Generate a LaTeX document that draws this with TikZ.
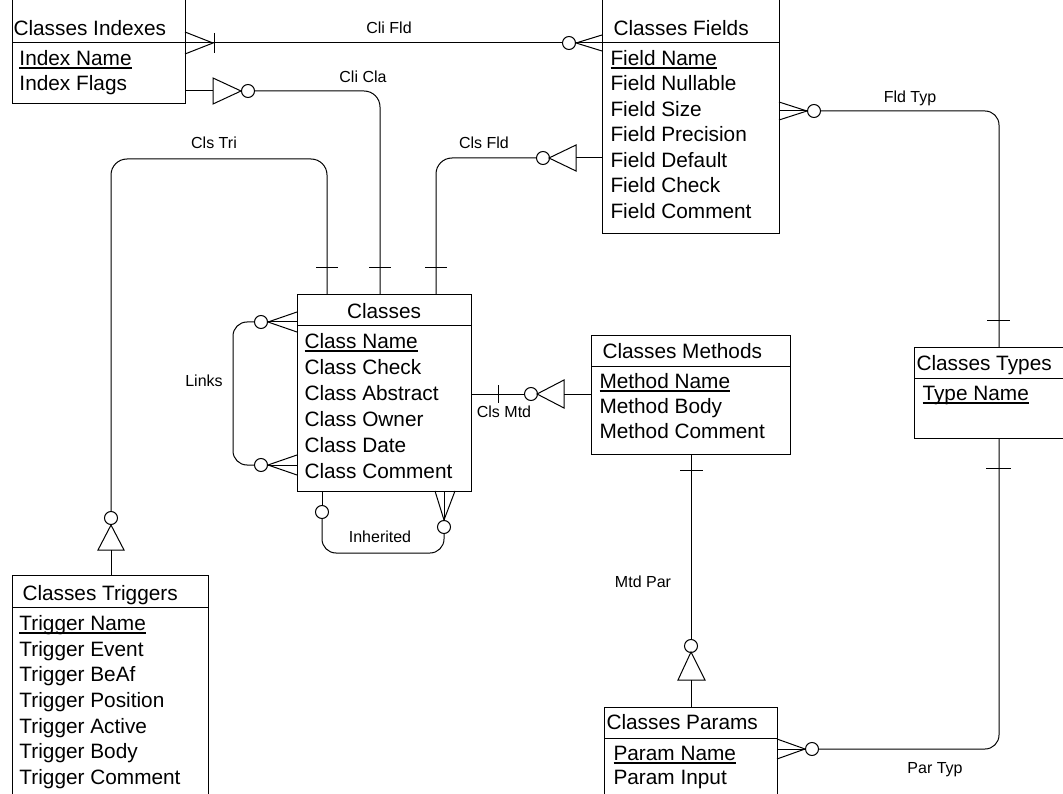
\documentclass[tikz,border=0pt]{standalone}
\usepackage{fontspec}
\setmainfont{Liberation Sans}
\usepackage{xcolor}

\newcommand{\entfont}{\fontsize{20.8}{25}\selectfont}
\newcommand{\relfont}{\fontsize{16}{19}\selectfont}
\newcommand{\keyname}[1]{\setbox0\hbox{#1}\rlap{\rule[-3.6pt]{\wd0}{1.8pt}}\box0}

\begin{document}
\begin{tikzpicture}[x=1pt,y=-1pt,line width=1pt,
  ent/.style={draw,line width=1.2pt,anchor=north west,inner sep=0pt},
  ttl/.style={anchor=west,inner sep=0pt,font=\entfont,text height=14.9pt,text depth=0pt},
  attr/.style={ttl},
  lbl/.style={inner sep=0pt,font=\relfont,text height=11.5pt,text depth=0pt},
  opt/.style={circle,draw,inner sep=0pt,minimum size=13pt}]
  \useasboundingbox (0,0) rectangle (1063,794);

  % entities
  \node[ent,minimum width=173pt,minimum height=123pt] (idx) at (12,-20) {};
  \draw (12,43) -- (185,43);
  \node[ttl] (idx-t) at (13,28) {Classes Indexes};
  \foreach \a [count=\i from 0] in {\keyname{Index Name},Index Flags}
    \node[attr] (idx-\i) at (19,58+25.5*\i) {\a};

  \node[ent,minimum width=177pt,minimum height=253pt] (fld) at (602,-20) {};
  \draw (602,43) -- (779,43);
  \node[ttl] (fld-t) at (613,28) {Classes Fields};
  \foreach \a [count=\i from 0] in {\keyname{Field Name},Field Nullable,Field Size,
      Field Precision,Field Default,Field Check,Field Comment}
    \node[attr] (fld-\i) at (610,58+25.5*\i) {\a};

  \node[ent,minimum width=174pt,minimum height=197pt] (cla) at (297,294) {};
  \draw (297,326) -- (472,326);
  \node[ttl,anchor=center] (cla-t) at (384,311) {Classes};
  \foreach \a [count=\i from 0] in {\keyname{Class Name},Class Check,Class Abstract,
      Class Owner,Class Date,Class Comment}
    \node[attr] (cla-\i) at (304,341+26*\i) {\a};

  \node[ent,minimum width=199pt,minimum height=119pt] (mtd) at (591,335) {};
  \draw (591,366) -- (790,366);
  \node[ttl] (mtd-t) at (602,351) {Classes Methods};
  \foreach \a [count=\i from 0] in {\keyname{Method Name},Method Body,Method Comment}
    \node[attr] (mtd-\i) at (599,381+25*\i) {\a};

  \node[ent,minimum width=170pt,minimum height=91pt] (typ) at (914,347) {};
  \draw (914,378) -- (1084,378);
  \node[ttl] (typ-t) at (916,363) {Classes Types};
  \node[attr] (typ-0) at (922,393) {\keyname{Type Name}};

  \node[ent,minimum width=173pt,minimum height=120pt] (prm) at (604,707) {};
  \draw (604,738) -- (778,738);
  \node[ttl] (prm-t) at (606,722) {Classes Params};
  \foreach \a [count=\i from 0] in {\keyname{Param Name},Param Input}
    \node[attr] (prm-\i) at (613,753+24*\i) {\a};

  \node[ent,minimum width=196pt,minimum height=240pt] (tri) at (12,575) {};
  \draw (12,607) -- (208,607);
  \node[ttl] (tri-t) at (22,593) {Classes Triggers};
  \foreach \a [count=\i from 0] in {\keyname{Trigger Name},Trigger Event,Trigger BeAf,
      Trigger Position,Trigger Active,Trigger Body,Trigger Comment}
    \node[attr] (tri-\i) at (19,623+25.7*\i) {\a};

  % Cli Fld
  \node[opt] (o1) at (569,43) {};
  \draw (185,32) -- (213,43) -- (185,54);
  \draw (214,33) -- (214,53);
  \draw (idx.east |- o1) -- (o1);
  \draw (fld.west |- 0,35) -- (o1.east) -- (fld.west |- 0,51);
  \draw (o1.east) -- (fld.west |- o1);
  \node[lbl] (l-clifld) at (389,28) {Cli Fld};

  % Cli Cla
  \node[opt] (o2) at (248,91) {};
  \draw (idx.east |- o2) -- (213,91);
  \draw (213,78) -- (241,91) -- (213,104) -- cycle;
  \draw[rounded corners=16pt] (o2) -- (380,91) -- (380,294);
  \draw (369,268) -- (391,268);
  \node[lbl] (l-clicla) at (363,77) {Cli Cla};

  % Cls Fld
  \node[opt] (o3) at (543,158) {};
  \draw (fld.west |- o3) -- (576,158);
  \draw (576,145) -- (549,158) -- (576,171) -- cycle;
  \draw[rounded corners=16pt] (o3) -- (436,158) -- (436,294);
  \draw (425,268) -- (447,268);
  \node[lbl] (l-clsfld) at (484,143) {Cls Fld};

  % Cls Tri
  \node[opt] (o4) at (111,518) {};
  \draw (111,575) -- (111,550);
  \draw (98,550) -- (111,525) -- (124,550) -- cycle;
  \draw[rounded corners=16pt] (o4) -- (111,159) -- (327,159) -- (327,294);
  \draw (316,268) -- (338,268);
  \node[lbl] (l-clstri) at (214,143) {Cls Tri};

  % Links
  \node[opt] (o5) at (261,322) {};
  \node[opt] (o6) at (261,465) {};
  \draw (297,312) -- (o5.east) -- (297,332);
  \draw (o5.east) -- (297,322);
  \draw (297,455) -- (o6.east) -- (297,475);
  \draw (o6.east) -- (297,465);
  \draw[rounded corners=14pt] (o5) -- (233,322) -- (233,465) -- (o6);
  \node[lbl] (l-links) at (204,381) {Links};

  % Inherited
  \node[opt] (o7) at (322,512) {};
  \node[opt] (o8) at (444,527) {};
  \draw (322,491) -- (o7);
  \draw (435,491) -- (o8.north) -- (455,491);
  \draw (444,491) -- (o8.north);
  \draw[rounded corners=14pt] (o7) -- (322,553) -- (444,553) -- (o8);
  \node[lbl] (l-inh) at (380,537) {Inherited};

  % Cls Mtd
  \node[opt] (o9) at (531,394) {};
  \draw (cla.east |- o9) -- (o9);
  \draw (498,385) -- (498,403);
  \draw (564,380) -- (537,394) -- (564,408) -- cycle;
  \draw (564,394) -- (mtd.west |- o9);
  \node[lbl] (l-clsmtd) at (504,412) {Cls Mtd};

  % Mtd Par
  \node[opt] (o10) at (691,646) {};
  \draw (691,454) -- (o10);
  \draw (680,470) -- (703,470);
  \draw (678,680) -- (691,652) -- (705,680) -- cycle;
  \draw (691,680) -- (691,707);
  \node[lbl] (l-mtdpar) at (643,582) {Mtd Par};

  % Fld Typ
  \node[opt] (o11) at (814,111) {};
  \draw (779,102) -- (o11.west) -- (779,120);
  \draw (779,111) -- (o11.west);
  \draw[rounded corners=14pt] (o11) -- (999,111) -- (999,347);
  \draw (987,321) -- (1010,321);
  \node[lbl] (l-fldtyp) at (910,97) {Fld Typ};

  % Par Typ
  \node[opt] (o12) at (812,749) {};
  \draw (777,739) -- (o12.west) -- (777,759);
  \draw (777,749) -- (o12.west);
  \draw[rounded corners=14pt] (o12) -- (999,749) -- (999,438);
  \draw (986,468) -- (1011,468);
  \node[lbl] (l-partyp) at (935,768) {Par Typ};
\end{tikzpicture}
\end{document}
